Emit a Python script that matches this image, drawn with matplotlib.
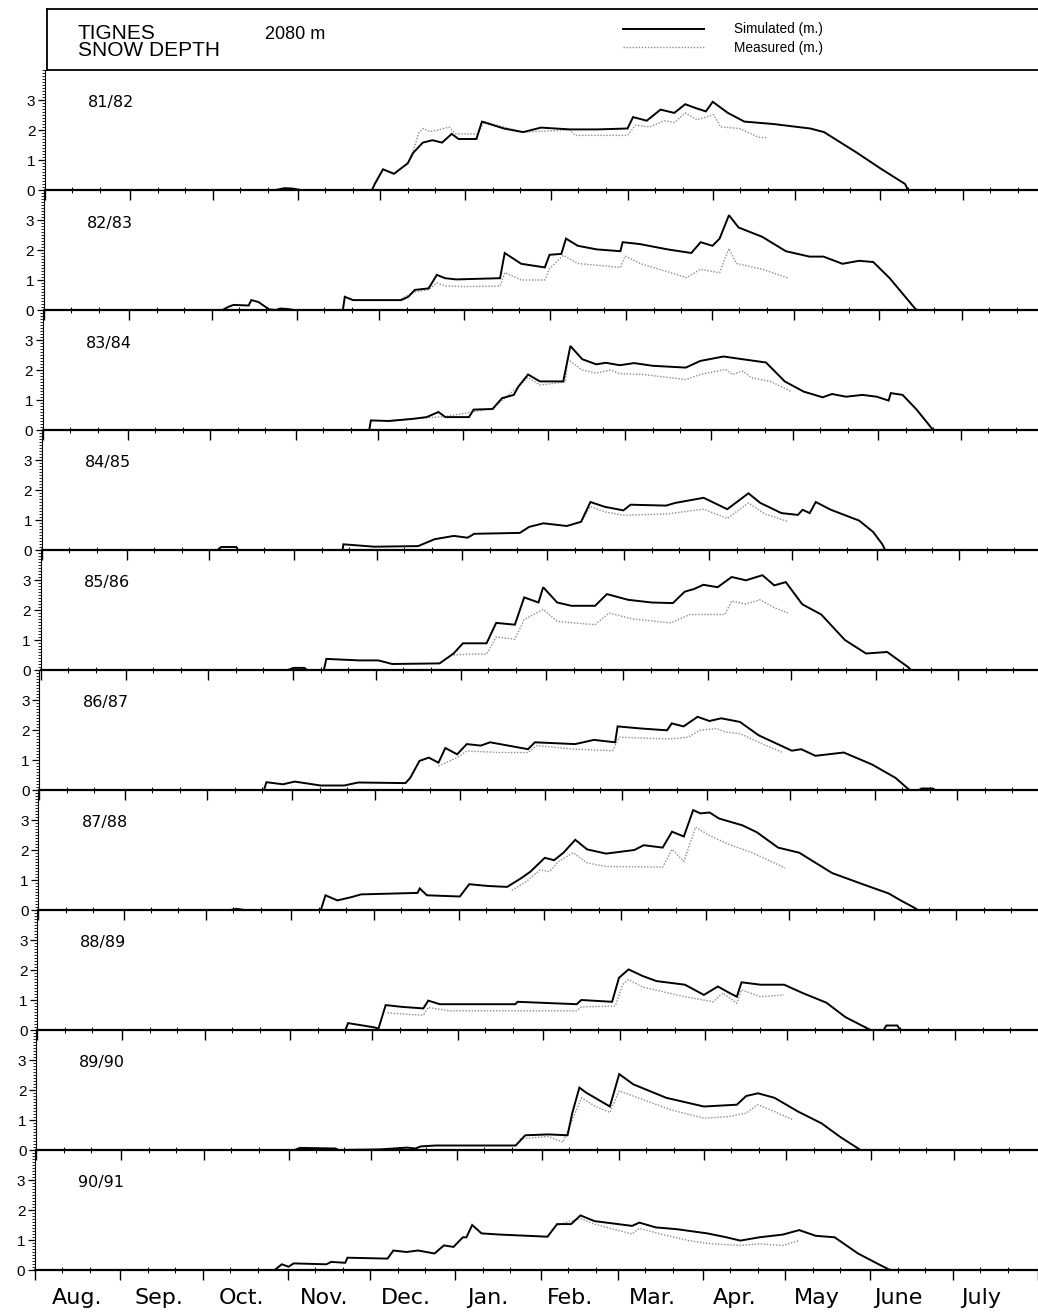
import matplotlib
matplotlib.use("Agg")
import matplotlib.pyplot as plt
from matplotlib.lines import Line2D
from matplotlib.ticker import FixedLocator, MultipleLocator
import numpy as np

plt.rcParams['font.family'] = ['Liberation Sans', 'DejaVu Sans']

# ---------------- data ----------------
SEASONS = ["81/82", "82/83", "83/84", "84/85", "85/86",
           "86/87", "87/88", "88/89", "89/90", "90/91"]
MONTHS = ["Aug.", "Sep.", "Oct.", "Nov.", "Dec.", "Jan.",
          "Feb.", "Mar.", "Apr.", "May", "June", "July"]
MONTH_LENGTHS = [31, 30, 31, 30, 31, 31, 28, 31, 30, 31, 30, 31]
Y_TICKS = [0, 1, 2, 3]

# (day since 1 Aug, snow depth in m)
SIM_8182 = [(0,0),(84,0),(87,0.06),(90,0.05),(93,0),(119,0),(120,0.2),(123,0.69),(127,0.54),(132,0.89),(134,1.24),(137.5,1.58),(141,1.66),(144.5,1.58),(148,1.87),(150.5,1.70),(157,1.70),(159,2.28),(167,2.05),(174,1.93),(180.5,2.08),(191,2.02),(201,2.02),(212,2.05),(214,2.43),(219,2.31),(224,2.68),(229,2.57),(233,2.86),(236.5,2.74),(240.5,2.62),(243,2.94),(248.5,2.57),(254.5,2.28),(265,2.20),(278.5,2.05),(283.5,1.93),(295.5,1.24),(304,0.72),(313,0.2),(314,0),(365,0)]
MEAS_8182 = [(128,0.6),(132,0.89),(134,1.3),(136,1.9),(137.6,2.05),(140,1.95),(142.7,1.99),(147,2.1),(149.6,1.87),(157.3,1.87),(159.9,2.28),(173.7,1.93),(190.9,2.0),(193,1.82),(212,1.82),(214.9,2.16),(220,2.1),(225.3,2.31),(229,2.25),(233,2.57),(237.3,2.34),(243.3,2.51),(245.9,2.1),(252.8,2.05),(259.6,1.76),(263,1.74)]

SIM_8283 = [(0,0),(65,0),(67,0.1),(69,0.17),(74.5,0.15),(75.5,0.33),(78,0.27),(82,0.02),(84.5,0),(86,0.05),(89,0.03),(91,0),(108.8,0),(109.5,0.44),(112.5,0.33),(130,0.33),(132.6,0.44),(135,0.67),(140,0.72),(143,1.17),(146,1.06),(150,1.02),(166,1.06),(167.7,1.9),(173.7,1.54),(182.3,1.42),(184,1.84),(188.3,1.87),(190,2.38),(194.3,2.14),(201.2,2.02),(209.8,1.96),(210.6,2.26),(216.7,2.2),(227,2.02),(235.6,1.9),(239,2.26),(243.3,2.14),(245.9,2.38),(249.3,3.16),(252.8,2.75),(261.4,2.44),(270,1.96),(278.6,1.78),(283.7,1.78),(290.6,1.54),(296.6,1.64),(301.8,1.6),(307.8,1.06),(317.2,0.03),(318,0),(365,0)]
MEAS_8283 = [(129,0.33),(135,0.6),(140,0.68),(143,0.9),(146.2,0.8),(153,0.78),(166,0.8),(167.7,1.25),(173.7,1.0),(182.3,1.0),(184,1.38),(189,1.82),(194.3,1.55),(209.8,1.42),(211.5,1.8),(217,1.55),(233.9,1.08),(239,1.36),(245.9,1.24),(249.3,2.05),(252,1.55),(261.4,1.36),(271,1.06)]

SIM_8384 = [(0,0),(118.8,0),(119.4,0.32),(126,0.3),(134.5,0.37),(139.7,0.43),(144,0.6),(146.5,0.43),(155.1,0.43),(156.8,0.68),(163.7,0.7),(167.1,1.06),(171.4,1.17),(173.1,1.45),(176.6,1.85),(180.9,1.62),(189.4,1.62),(192,2.8),(196.3,2.36),(201.4,2.19),(204.9,2.24),(210,2.16),(215.2,2.23),(222,2.14),(234,2.08),(239.2,2.3),(247.7,2.45),(254.6,2.36),(263.2,2.25),(270,1.62),(276.9,1.28),(283.8,1.09),(287.2,1.2),(292.3,1.11),(298.3,1.17),(303.5,1.11),(307.8,0.98),(308.6,1.23),(312.9,1.17),(318,0.68),(324,0.0),(365,0)]
MEAS_8384 = [(126,0.32),(146.5,0.45),(163.7,0.72),(173.1,1.45),(176.6,1.75),(180.9,1.5),(190.2,1.6),(191,2.36),(196.3,2.0),(201.4,1.9),(206.6,2.0),(210,1.88),(218.6,1.85),(234,1.68),(239.2,1.85),(248.5,2.02),(251,1.85),(254.6,1.97),(258,1.74),(264.8,1.62),(272.5,1.28)]

SIM_8485 = [(0,0),(64,0),(65.3,0.1),(70.8,0.1),(71.5,0),(109.5,0),(109.8,0.19),(121,0.11),(137,0.13),(143,0.36),(150,0.47),(155,0.41),(157.4,0.54),(174,0.57),(177.4,0.77),(182.6,0.89),(191.1,0.8),(196.3,0.94),(199.7,1.6),(204.9,1.44),(211.7,1.32),(214.3,1.51),(227.2,1.48),(230.6,1.57),(240.9,1.74),(249.5,1.36),(257.2,1.89),(261.5,1.57),(269.2,1.23),(275.2,1.17),(276.9,1.34),(279.5,1.23),(281.7,1.6),(287.2,1.34),(297.5,0.98),(302.6,0.6),(306,0.18),(306.9,0),(365,0)]
MEAS_8485 = [(196.3,0.94),(199.7,1.45),(204.9,1.27),(211.7,1.16),(227.2,1.2),(240.9,1.36),(249.5,1.05),(257.2,1.57),(263.2,1.2),(271.8,0.94)]

SIM_8586 = [(0,0),(90,0),(92,0.07),(96,0.07),(97,0),(103.1,0),(104,0.37),(116,0.32),(122.9,0.32),(128,0.2),(145.2,0.22),(150.3,0.55),(153.7,0.89),(162.3,0.89),(165.8,1.57),(172.6,1.51),(176,2.42),(181.2,2.25),(182.9,2.76),(188,2.25),(193.2,2.14),(201.8,2.14),(206.1,2.53),(213.8,2.34),(222.4,2.25),(230.1,2.23),(234.4,2.61),(237.8,2.7),(241.2,2.84),(246.4,2.76),(251.5,3.1),(256.7,2.99),(262.7,3.16),(267,2.82),(271.2,2.93),(277.2,2.19),(284.1,1.85),(292.7,1.0),(300.4,0.55),(308.1,0.6),(315.8,0.09),(316.7,0),(365,0)]
MEAS_8586 = [(150.3,0.5),(157,0.53),(162.3,0.53),(165.8,1.1),(172.6,1.03),(176,1.68),(182.9,2.02),(188,1.62),(201.8,1.51),(206.9,1.9),(215.5,1.7),(229.3,1.57),(236.3,1.85),(249,1.85),(251.5,2.3),(256.7,2.2),(261.8,2.34),(267,2.08),(272,1.9)]

SIM_8687 = [(0,0),(81.7,0),(82.6,0.26),(88.6,0.19),(92.9,0.28),(102.3,0.15),(110.9,0.15),(116,0.25),(133.2,0.23),(134.9,0.4),(138.3,0.97),(141.7,1.08),(145.2,0.91),(147.7,1.4),(152,1.19),(155.5,1.53),(160.6,1.48),(164,1.59),(177.8,1.36),(180.3,1.59),(194.9,1.53),(201.8,1.67),(209.5,1.59),(210.4,2.12),(218.9,2.05),(228.4,1.99),(230.1,2.22),(234.4,2.12),(239.5,2.44),(243.8,2.3),(248.1,2.39),(254.9,2.27),(261.8,1.82),(273.8,1.31),(277.2,1.36),(282.4,1.14),(292.7,1.25),(303,0.85),(311.6,0.4),(315.8,0.06),(316.7,0),(320,0),(321,0.05),(325,0.05),(326,0),(365,0)]
MEAS_8687 = [(145.2,0.8),(152,1.08),(155.5,1.3),(167.5,1.25),(177.8,1.25),(181,1.48),(194.9,1.36),(208.6,1.31),(211,1.76),(229.3,1.7),(236,1.76),(240.3,1.99),(246.4,2.05),(249.8,1.93),(254.9,1.88),(261.8,1.59),(270.4,1.25)]

SIM_8788 = [(0,0),(70,0),(72,0.04),(75,0),(102.8,0),(104.5,0.49),(108.8,0.32),(114,0.43),(117.4,0.52),(138,0.57),(138.8,0.72),(141.4,0.49),(153.4,0.45),(156.8,0.86),(163.7,0.8),(170.6,0.77),(175.7,1.06),(179.1,1.28),(184.3,1.74),(187.7,1.66),(191.1,1.91),(195.4,2.34),(199.7,2.02),(206.6,1.88),(216.9,2.0),(220.3,2.16),(227.2,2.08),(230.6,2.61),(234.9,2.45),(238.3,3.33),(240.9,3.22),(244.3,3.25),(247.7,3.05),(256.3,2.82),(261.5,2.59),(269.2,2.08),(276.9,1.91),(288.9,1.23),(295.8,1.0),(300.9,0.83),(309.5,0.55),(313.8,0.32),(318.9,0.07),(320,0),(365,0)]
MEAS_8788 = [(172.3,0.66),(177.5,0.94),(182.6,1.34),(186,1.28),(189.4,1.62),(194.6,1.91),(199.7,1.57),(206.6,1.45),(227.2,1.43),(230.6,2.02),(234.9,1.62),(239.2,2.76),(244.3,2.48),(251.2,2.19),(259.8,1.91),(271.8,1.4)]

SIM_8889 = [(0,0),(112.2,0),(113.1,0.23),(122.5,0.09),(124.2,0.05),(126.8,0.83),(132.8,0.77),(140.5,0.72),(142.3,0.98),(146.5,0.86),(174,0.86),(174.8,0.94),(196.3,0.86),(198,1.0),(209.2,0.94),(211.7,1.74),(215.2,2.02),(220.3,1.8),(225.4,1.63),(235.7,1.51),(242.6,1.17),(247.7,1.45),(252,1.23),(254.6,1.11),(256.3,1.59),(263.2,1.51),(271.8,1.51),(278.6,1.23),(287.2,0.91),(294.1,0.43),(302.6,0.03),(303.5,0),(308,0),(309,0.15),(313,0.15),(314,0),(365,0)]
MEAS_8889 = [(127.5,0.57),(140.5,0.49),(142.3,0.75),(150,0.64),(196.3,0.64),(198,0.77),(210.4,0.8),(213,1.51),(215.2,1.68),(220.3,1.43),(235.7,1.11),(246,0.94),(249.5,1.23),(254.6,0.89),(256.3,1.34),(263.2,1.11),(271.8,1.17)]

SIM_8990 = [(0,0),(94,0),(96,0.07),(109,0.05),(110,0),(125,0.02),(135,0.08),(138,0.05),(140,0.12),(145.4,0.15),(174.5,0.15),(178,0.49),(186.5,0.52),(193.4,0.49),(195.1,1.23),(197.7,2.08),(200.2,1.91),(208.8,1.45),(212.2,2.53),(217.3,2.19),(229.3,1.74),(243,1.45),(255,1.51),(258.4,1.8),(262.7,1.89),(268.7,1.74),(277.3,1.28),(285.8,0.89),(292.7,0.43),(299.5,0.03),(300,0),(365,0)]
MEAS_8990 = [(176,0.37),(186.5,0.45),(191.7,0.26),(195.1,1.0),(198.5,1.74),(203.6,1.45),(208.8,1.25),(212.2,1.97),(220.8,1.68),(231,1.34),(243,1.06),(251.6,1.11),(258.4,1.23),(262.7,1.51),(268.7,1.28),(275.6,1.0)]

SIM_9091 = [(0,0),(87.2,0),(89.8,0.19),(92.3,0.11),(94.1,0.22),(106,0.19),(107.8,0.27),(112.9,0.24),(113.7,0.41),(128.3,0.38),(130.4,0.65),(135.2,0.6),(139.4,0.65),(145.4,0.55),(148.8,0.82),(152.3,0.77),(155.7,1.09),(157,1.09),(159.1,1.5),(162.5,1.22),(169.4,1.18),(186.5,1.11),(190,1.53),(195.1,1.53),(198.5,1.82),(203.6,1.63),(217.3,1.47),(219.9,1.58),(225.9,1.42),(233.6,1.36),(244.7,1.22),(251.6,1.09),(256.7,0.98),(263.6,1.09),(272.1,1.18),(278.1,1.33),(284.1,1.14),(291,1.09),(299.5,0.55),(306.4,0.22),(310.7,0.02),(311.5,0),(365,0)]
MEAS_9091 = [(190,1.5),(198.5,1.72),(203.6,1.53),(217.3,1.2),(219.9,1.39),(227.6,1.2),(237.9,0.98),(246.4,0.87),(256.7,0.82),(263.6,0.87),(272.1,0.82),(278.1,0.98)]

SIMULATED = [SIM_8182, SIM_8283, SIM_8384, SIM_8485, SIM_8586,
             SIM_8687, SIM_8788, SIM_8889, SIM_8990, SIM_9091]
MEASURED = [MEAS_8182, MEAS_8283, MEAS_8384, MEAS_8485, MEAS_8586,
            MEAS_8687, MEAS_8788, MEAS_8889, MEAS_8990, MEAS_9091]

# ---------------- layout ----------------
W, H = 1038, 1316
fig = plt.figure(figsize=(W / 100, H / 100), dpi=100)
fig.patch.set_facecolor("white")

month_starts = np.concatenate([[0], np.cumsum(MONTH_LENGTHS)])
minor_days = []
for s in month_starts[:-1]:
    minor_days += [s + 10, s + 20]

SIM_KW = dict(color="black", lw=1.4, solid_joinstyle="miter", zorder=3)
MEAS_KW = dict(color="#8c8c8c", lw=1.0, linestyle=(0, (1, 1.2)), zorder=2)

# the scanned page is slightly skewed: each panel sits a little further left
left_top_px = 45.0
skew_px = 10.0 / 9.0
axis_w_px = 1003.0
top0 = 70
ph = 120

for i, season in enumerate(SEASONS):
    bottom_px = top0 + ph * (i + 1)
    lpx = left_top_px - skew_px * i
    ax = fig.add_axes([lpx / W, (H - bottom_px) / H, axis_w_px / W, ph / H])
    sd = np.array(SIMULATED[i])
    md = np.array(MEASURED[i])
    ax.plot(md[:, 0], md[:, 1], **MEAS_KW)
    ax.plot(sd[:, 0], sd[:, 1], **SIM_KW)
    ax.set_xlim(0, 365)
    ax.set_ylim(0, 4)
    for s in ("top", "right"):
        ax.spines[s].set_visible(False)
    ax.spines["bottom"].set_linewidth(1.6)
    ax.spines["left"].set_linewidth(0.8)
    ax.xaxis.set_major_locator(FixedLocator(month_starts))
    ax.xaxis.set_minor_locator(FixedLocator(minor_days))
    ax.tick_params(axis="x", which="major", direction="out", length=7,
                   width=1.0, labelbottom=False)
    ax.tick_params(axis="x", which="minor", direction="inout", length=4,
                   width=0.7)
    ax.set_yticks(Y_TICKS)
    ax.yaxis.set_minor_locator(MultipleLocator(0.1))
    ax.tick_params(axis="y", which="major", direction="out", length=5,
                   width=0.9, pad=2, labelsize=11)
    ax.tick_params(axis="y", which="minor", direction="out", length=2.2,
                   width=0.6)
    ax.patch.set_alpha(0)
    ax.text(0.043, 0.725, season, transform=ax.transAxes, fontsize=11.5,
            family=["DejaVu Sans"], ha="left", va="center")
    if i == len(SEASONS) - 1:
        for m, name in enumerate(MONTHS):
            xc = 15.35 + 29.9 * m
            ax.text(xc, -0.235, name, transform=ax.get_xaxis_transform(),
                    fontsize=16, family=["DejaVu Sans"],
                    ha="center", va="center")

# ---------------- header ----------------
hx0 = 47
head = fig.add_axes([hx0 / W, (H - top0) / H, (W - hx0) / W, 61 / H])
head.set_xticks([])
head.set_yticks([])
head.spines["right"].set_visible(False)
for s in ("top", "left", "bottom"):
    head.spines[s].set_linewidth(1.3)
head.patch.set_alpha(0)
head.text(0.031, 0.76, "TIGNES\nSNOW DEPTH", transform=head.transAxes,
          fontsize=15, ha="left", va="top", linespacing=0.88)
head.text(0.220, 0.72, "2080 m", transform=head.transAxes,
          fontsize=13, ha="left", va="top")
h_sim = Line2D([], [], **SIM_KW)
h_meas = Line2D([], [], **MEAS_KW)
head.legend([h_sim, h_meas], ["Simulated (m.)", "Measured (m.)"],
            loc="upper left", bbox_to_anchor=(0.581, 0.78), frameon=False,
            fontsize=9.8, handlelength=6.0, handletextpad=2.2,
            labelspacing=0.35, borderpad=0, borderaxespad=0)

fig.savefig("out.png", dpi=100, facecolor="white")
